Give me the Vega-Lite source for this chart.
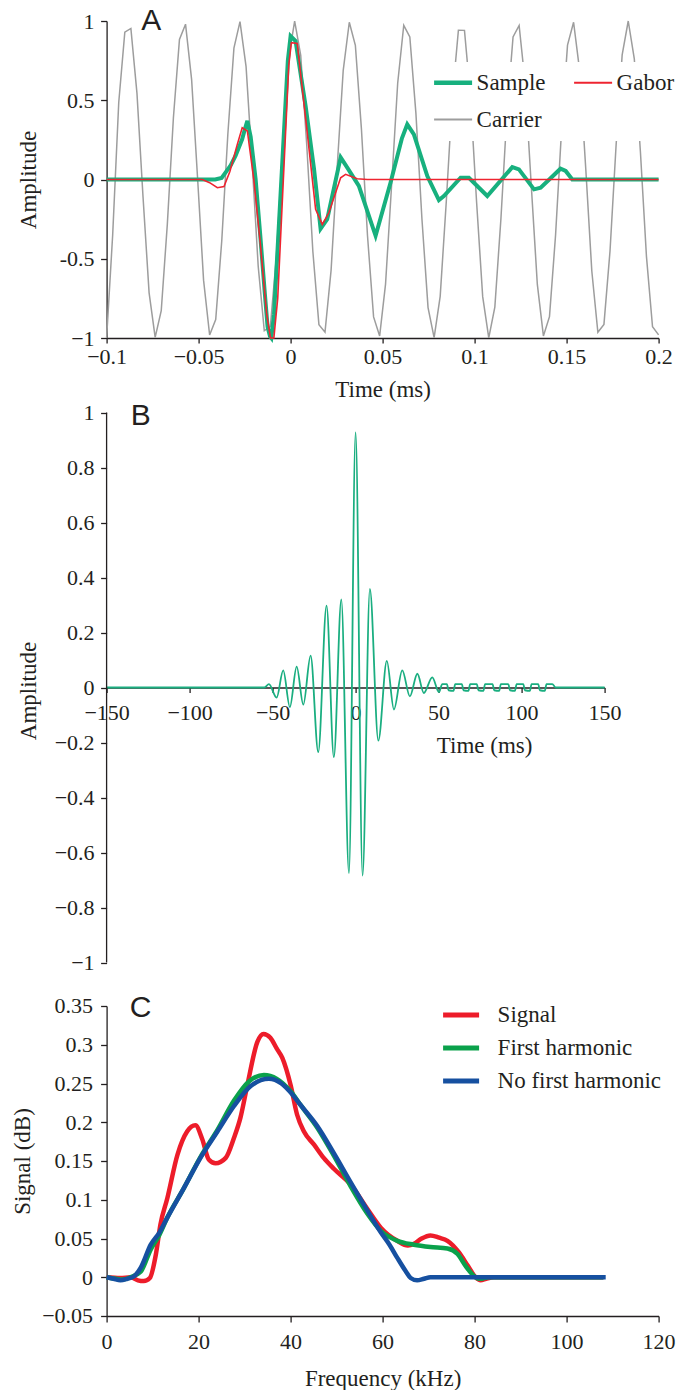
{
  "$schema": "https://vega.github.io/schema/vega-lite/v6.json",
  "background": "white",
  "padding": {"left": 10.6, "top": 6, "right": 2, "bottom": 2},
  "bounds": "flush",
  "spacing": 43,
  "resolve": {"scale": {"color": "independent"}, "legend": {"color": "independent"}},
  "config": {
    "view": {"stroke": null},
    "axis": {"grid": false, "domainColor": "#231f20", "domainWidth": 1.3, "tickColor": "#231f20", "tickWidth": 1.3, "tickSize": 6, "labelFont": "Liberation Serif", "labelFontSize": 22, "labelColor": "#231f20", "titleFont": "Liberation Serif", "titleFontSize": 23, "titleFontWeight": "normal", "titleColor": "#231f20", "labelOverlap": false, "labelFlush": false},
    "legend": {"labelFont": "Liberation Serif", "labelColor": "#231f20", "labelFontSize": 23, "labelLimit": 400}
  },
  "datasets": {
    "carrier": [
      {"t":-0.1,"a":-1.0},{"t":-0.0967,"a":-0.35},{"t":-0.0934,"a":0.486},{"t":-0.0901,"a":0.93},{"t":-0.0868,"a":0.953},{"t":-0.0835,"a":0.545},{"t":-0.0802,"a":-0.11},{"t":-0.0769,"a":-0.715},{"t":-0.0736,"a":-0.996},{"t":-0.0703,"a":-0.827},
      {"t":-0.067,"a":-0.283},{"t":-0.0637,"a":0.388},{"t":-0.0604,"a":0.884},{"t":-0.0571,"a":0.98},{"t":-0.0538,"a":0.632},{"t":-0.0505,"a":-0.002},{"t":-0.0473,"a":-0.635},{"t":-0.044,"a":-0.981},{"t":-0.0407,"a":-0.883},{"t":-0.0374,"a":-0.385},
      {"t":-0.0341,"a":0.287},{"t":-0.0308,"a":0.829},{"t":-0.0275,"a":0.996},{"t":-0.0242,"a":0.712},{"t":-0.0209,"a":0.106},{"t":-0.0176,"a":-0.548},{"t":-0.0143,"a":-0.954},{"t":-0.011,"a":-0.928},{"t":-0.0077,"a":-0.483},{"t":-0.0044,"a":0.181},
      {"t":-0.0011,"a":0.763},{"t":0.0022,"a":1.0},{"t":0.0055,"a":0.784},{"t":0.0088,"a":0.213},{"t":0.0121,"a":-0.454},{"t":0.0154,"a":-0.916},{"t":0.0187,"a":-0.963},{"t":0.022,"a":-0.573},{"t":0.0253,"a":0.074},{"t":0.0286,"a":0.689},
      {"t":0.0319,"a":0.992},{"t":0.0352,"a":0.847},{"t":0.0385,"a":0.318},{"t":0.0418,"a":-0.355},{"t":0.0451,"a":-0.867},{"t":0.0484,"a":-0.987},{"t":0.0516,"a":-0.66},{"t":0.0549,"a":-0.035},{"t":0.0582,"a":0.607},{"t":0.0615,"a":0.973},
      {"t":0.0648,"a":0.899},{"t":0.0681,"a":0.419},{"t":0.0714,"a":-0.252},{"t":0.0747,"a":-0.808},{"t":0.078,"a":-0.998},{"t":0.0813,"a":-0.737},{"t":0.0846,"a":-0.142},{"t":0.0879,"a":0.517},{"t":0.0912,"a":0.942},{"t":0.0945,"a":0.941},
      {"t":0.0978,"a":0.514},{"t":0.1011,"a":-0.145},{"t":0.1044,"a":-0.739},{"t":0.1077,"a":-0.999},{"t":0.111,"a":-0.806},{"t":0.1143,"a":-0.249},{"t":0.1176,"a":0.421},{"t":0.1209,"a":0.9},{"t":0.1242,"a":0.972},{"t":0.1275,"a":0.604},
      {"t":0.1308,"a":-0.038},{"t":0.1341,"a":-0.662},{"t":0.1374,"a":-0.987},{"t":0.1407,"a":-0.865},{"t":0.144,"a":-0.352},{"t":0.1473,"a":0.321},{"t":0.1505,"a":0.848},{"t":0.1538,"a":0.992},{"t":0.1571,"a":0.687},{"t":0.1604,"a":0.071},
      {"t":0.1637,"a":-0.577},{"t":0.167,"a":-0.964},{"t":0.1703,"a":-0.914},{"t":0.1736,"a":-0.451},{"t":0.1769,"a":0.216},{"t":0.1802,"a":0.786},{"t":0.1835,"a":1.0},{"t":0.1868,"a":0.761},{"t":0.1901,"a":0.178},{"t":0.1934,"a":-0.485},
      {"t":0.1967,"a":-0.929},{"t":0.2,"a":-0.98}
    ],
    "sample": [
      {"t":-0.1,"a":0},{"t":-0.041,"a":0},{"t":-0.0375,"a":0.01},{"t":-0.0353,"a":0.045},{"t":-0.0325,"a":0.09},{"t":-0.0299,"a":0.15},{"t":-0.0263,"a":0.255},{"t":-0.0248,"a":0.32},{"t":-0.0235,"a":0.37},{"t":-0.0217,"a":0.27},
      {"t":-0.019,"a":0.0},{"t":-0.0165,"a":-0.35},{"t":-0.014,"a":-0.72},{"t":-0.0125,"a":-0.93},{"t":-0.0112,"a":-0.99},{"t":-0.0105,"a":-1.0},{"t":-0.009,"a":-0.85},{"t":-0.0015,"a":0.75},{"t":0.0,"a":0.905},{"t":0.0027,"a":0.874},
      {"t":0.0082,"a":0.46},{"t":0.0127,"a":0.07},{"t":0.0163,"a":-0.31},{"t":0.0199,"a":-0.25},{"t":0.0272,"a":0.14},{"t":0.0308,"a":0.075},{"t":0.0371,"a":-0.04},{"t":0.0462,"a":-0.355},{"t":0.0543,"a":-0.02},{"t":0.0605,"a":0.26},
      {"t":0.0634,"a":0.348},{"t":0.067,"a":0.285},{"t":0.0743,"a":0.022},{"t":0.0806,"a":-0.13},{"t":0.0833,"a":-0.104},{"t":0.0924,"a":0.011},{"t":0.0969,"a":0.011},{"t":0.1069,"a":-0.104},{"t":0.1205,"a":0.078},{"t":0.1241,"a":0.064},
      {"t":0.1323,"a":-0.062},{"t":0.1359,"a":-0.052},{"t":0.1467,"a":0.068},{"t":0.1495,"a":0.054},{"t":0.1531,"a":0.0},{"t":0.2,"a":0}
    ],
    "gabor": [
      {"t":-0.1,"a":0},{"t":-0.048,"a":0},{"t":-0.044,"a":-0.02},{"t":-0.0398,"a":-0.052},{"t":-0.0362,"a":-0.045},{"t":-0.033,"a":0.05},{"t":-0.029,"a":0.22},{"t":-0.0263,"a":0.327},{"t":-0.0235,"a":0.306},{"t":-0.02,"a":0.0},
      {"t":-0.0165,"a":-0.4},{"t":-0.013,"a":-0.85},{"t":-0.0109,"a":-1.0},{"t":-0.0091,"a":-1.0},{"t":-0.007,"a":-0.75},{"t":-0.001,"a":0.72},{"t":0.0004,"a":0.863},{"t":0.0036,"a":0.859},{"t":0.009,"a":0.3},{"t":0.0136,"a":-0.188},
      {"t":0.0172,"a":-0.283},{"t":0.0208,"a":-0.21},{"t":0.0272,"a":0.011},{"t":0.0299,"a":0.033},{"t":0.0362,"a":0.005},{"t":0.0417,"a":0.0},{"t":0.2,"a":0}
    ],
    "waveB": [
      {"t":-150,"a":0},{"t":-55,"a":0},{"t":-52.2,"a":0.012},{"t":-47.6,"a":-0.037},{"t":-43.6,"a":0.062},{"t":-39.6,"a":-0.071},{"t":-35.5,"a":0.076},{"t":-31.5,"a":-0.062},{"t":-27.1,"a":0.116},{"t":-22.5,"a":-0.235},
      {"t":-17.5,"a":0.298},{"t":-13.1,"a":-0.253},{"t":-8.6,"a":0.32},{"t":-4.0,"a":-0.675},{"t":0,"a":0.928},{"t":4.2,"a":-0.684},{"t":8.6,"a":0.359},{"t":13.7,"a":-0.193},{"t":18.8,"a":0.097},{"t":23.1,"a":-0.08},
      {"t":28.1,"a":0.062},{"t":32.7,"a":-0.032},{"t":37.2,"a":0.05},{"t":41.1,"a":-0.02},{"t":46.2,"a":0.037},{"t":50.2,"a":-0.017},{"t":52.2,"a":0.012},{"t":55,"a":0.012},{"t":56,"a":-0.01},{"t":59,"a":-0.012},
      {"t":60,"a":0.012},{"t":64,"a":0.012},{"t":65,"a":-0.01},{"t":68,"a":-0.012},{"t":69,"a":0.012},{"t":73,"a":0.012},{"t":74,"a":-0.01},{"t":77,"a":-0.012},{"t":78,"a":0.012},{"t":82.5,"a":0.012},
      {"t":83.5,"a":-0.01},{"t":86.5,"a":-0.012},{"t":87.5,"a":0.012},{"t":92,"a":0.012},{"t":93,"a":-0.01},{"t":96,"a":-0.012},{"t":97,"a":0.012},{"t":101,"a":0.012},{"t":102,"a":-0.01},{"t":105,"a":-0.012},
      {"t":106,"a":0.012},{"t":110,"a":0.012},{"t":111,"a":-0.01},{"t":114,"a":-0.012},{"t":115,"a":0.012},{"t":118.5,"a":0.012},{"t":120.5,"a":0},{"t":150,"a":0}
    ],
    "spec": [
      {"series":"Signal","f":0,"s":0},{"series":"Signal","f":3,"s":-0.001},{"series":"Signal","f":5.2,"s":0},{"series":"Signal","f":6.8,"s":-0.004},{"series":"Signal","f":8.1,"s":-0.005},{"series":"Signal","f":9.4,"s":-0.001},{"series":"Signal","f":10.7,"s":0.029},{"series":"Signal","f":11.7,"s":0.068},{"series":"Signal","f":13.2,"s":0.102},{"series":"Signal","f":15.4,"s":0.158},
      {"series":"Signal","f":17.5,"s":0.188},{"series":"Signal","f":19.3,"s":0.196},{"series":"Signal","f":20.8,"s":0.178},{"series":"Signal","f":22.2,"s":0.152},{"series":"Signal","f":23.7,"s":0.147},{"series":"Signal","f":25.9,"s":0.154},{"series":"Signal","f":27.7,"s":0.18},{"series":"Signal","f":29.1,"s":0.206},{"series":"Signal","f":30.6,"s":0.248},{"series":"Signal","f":32.8,"s":0.304},
      {"series":"Signal","f":34.1,"s":0.314},{"series":"Signal","f":35.6,"s":0.309},{"series":"Signal","f":37,"s":0.295},{"series":"Signal","f":38.2,"s":0.283},{"series":"Signal","f":40,"s":0.248},{"series":"Signal","f":41.4,"s":0.21},{"series":"Signal","f":42.9,"s":0.188},{"series":"Signal","f":45.1,"s":0.171},{"series":"Signal","f":47.2,"s":0.154},{"series":"Signal","f":49.4,"s":0.14},
      {"series":"Signal","f":53,"s":0.12},{"series":"Signal","f":56.7,"s":0.088},{"series":"Signal","f":59.6,"s":0.064},{"series":"Signal","f":63.2,"s":0.047},{"series":"Signal","f":65.5,"s":0.041},{"series":"Signal","f":66.8,"s":0.043},{"series":"Signal","f":68.5,"s":0.05},{"series":"Signal","f":70.4,"s":0.054},{"series":"Signal","f":72.3,"s":0.051},{"series":"Signal","f":74.1,"s":0.047},
      {"series":"Signal","f":76.6,"s":0.032},{"series":"Signal","f":78.5,"s":0.015},{"series":"Signal","f":80.2,"s":0},{"series":"Signal","f":81.3,"s":-0.004},{"series":"Signal","f":82.5,"s":-0.002},{"series":"Signal","f":84.2,"s":0},{"series":"Signal","f":108,"s":0},
      {"series":"First harmonic","f":0,"s":0},{"series":"First harmonic","f":2,"s":-0.002},{"series":"First harmonic","f":3.5,"s":-0.003},{"series":"First harmonic","f":5.2,"s":0},{"series":"First harmonic","f":7.4,"s":0.007},{"series":"First harmonic","f":9.6,"s":0.036},{"series":"First harmonic","f":11.5,"s":0.055},{"series":"First harmonic","f":13.2,"s":0.077},{"series":"First harmonic","f":16.8,"s":0.115},{"series":"First harmonic","f":20.4,"s":0.155},
      {"series":"First harmonic","f":24.1,"s":0.19},{"series":"First harmonic","f":27.7,"s":0.228},{"series":"First harmonic","f":31,"s":0.253},{"series":"First harmonic","f":34.2,"s":0.261},{"series":"First harmonic","f":37,"s":0.256},{"series":"First harmonic","f":40,"s":0.24},{"series":"First harmonic","f":42.2,"s":0.222},{"series":"First harmonic","f":45.8,"s":0.193},{"series":"First harmonic","f":49.4,"s":0.157},{"series":"First harmonic","f":53,"s":0.118},
      {"series":"First harmonic","f":56.7,"s":0.082},{"series":"First harmonic","f":59.6,"s":0.06},{"series":"First harmonic","f":63.2,"s":0.047},{"series":"First harmonic","f":66.8,"s":0.042},{"series":"First harmonic","f":70.4,"s":0.039},{"series":"First harmonic","f":74.1,"s":0.037},{"series":"First harmonic","f":76.3,"s":0.03},{"series":"First harmonic","f":78,"s":0.015},{"series":"First harmonic","f":80.2,"s":0},{"series":"First harmonic","f":81.2,"s":-0.002},
      {"series":"First harmonic","f":83,"s":0},{"series":"First harmonic","f":108,"s":0},
      {"series":"No first harmonic","f":0,"s":0},{"series":"No first harmonic","f":1.5,"s":-0.002},{"series":"No first harmonic","f":3,"s":-0.004},{"series":"No first harmonic","f":4.5,"s":-0.002},{"series":"No first harmonic","f":5.9,"s":0.001},{"series":"No first harmonic","f":7.4,"s":0.012},{"series":"No first harmonic","f":9.6,"s":0.042},{"series":"No first harmonic","f":11.5,"s":0.058},{"series":"No first harmonic","f":13.2,"s":0.077},{"series":"No first harmonic","f":16.8,"s":0.115},
      {"series":"No first harmonic","f":20.4,"s":0.154},{"series":"No first harmonic","f":24.1,"s":0.188},{"series":"No first harmonic","f":27.7,"s":0.221},{"series":"No first harmonic","f":31.4,"s":0.247},{"series":"No first harmonic","f":35.3,"s":0.256},{"series":"No first harmonic","f":38,"s":0.25},{"series":"No first harmonic","f":40.5,"s":0.235},{"series":"No first harmonic","f":42.2,"s":0.222},{"series":"No first harmonic","f":45.8,"s":0.195},{"series":"No first harmonic","f":49.4,"s":0.16},
      {"series":"No first harmonic","f":53,"s":0.123},{"series":"No first harmonic","f":56.7,"s":0.086},{"series":"No first harmonic","f":59.6,"s":0.058},{"series":"No first harmonic","f":61.5,"s":0.042},{"series":"No first harmonic","f":63.2,"s":0.025},{"series":"No first harmonic","f":65,"s":0.008},{"series":"No first harmonic","f":66.1,"s":-0.001},{"series":"No first harmonic","f":67.5,"s":-0.004},{"series":"No first harmonic","f":69,"s":-0.002},{"series":"No first harmonic","f":70.4,"s":0},
      {"series":"No first harmonic","f":108.5,"s":0}
    ]
  },
  "vconcat": [
    {
      "width": 552,
      "height": 317,
      "encoding": {
        "x": {"field": "t", "type": "quantitative", "scale": {"domain": [-0.1, 0.2], "nice": false, "zero": false},
              "axis": {"title": "Time (ms)", "values": [-0.1, -0.05, 0, 0.05, 0.1, 0.15, 0.2], "labelExpr": "format(datum.value, '~g')", "tickSize": 5, "labelPadding": 3.5, "titleY": 40}},
        "y": {"field": "a", "type": "quantitative", "scale": {"domain": [-1, 1], "nice": false},
              "axis": {"title": "Amplitude", "values": [-1, -0.5, 0, 0.5, 1], "labelExpr": "datum.value == -0.5 ? '-0.5' : format(datum.value, '~g')", "tickSize": 6, "labelPadding": 6.5, "titleX": -66}}
      },
      "layer": [
        {"data": {"name": "carrier"}, "mark": {"type": "line", "strokeWidth": 1.5},
         "encoding": {"color": {"datum": "Carrier", "type": "nominal", "scale": {"domain": ["Sample", "Gabor", "Carrier"], "range": ["#17b07e", "#ee2430", "#9d9d9d"]},
           "legend": {"orient": "none", "legendX": 326, "legendY": 41, "direction": "horizontal", "columns": 2, "title": null, "fillColor": "white", "padding": 9, "symbolType": "stroke", "symbolSize": 1444, "symbolStrokeWidth": 1.8, "labelFontSize": 23, "labelOffset": 12, "rowPadding": 13, "columnPadding": 24, "encode": {"symbols": {"update": {"strokeWidth": {"signal": "datum.value === 'Sample' ? 4.5 : 1.8"}}}}}}}},
        {"data": {"name": "sample"}, "mark": {"type": "line", "strokeWidth": 4},
         "encoding": {"color": {"datum": "Sample", "type": "nominal", "scale": {"domain": ["Sample", "Gabor", "Carrier"], "range": ["#17b07e", "#ee2430", "#9d9d9d"]},
           "legend": {"orient": "none", "legendX": 326, "legendY": 41, "direction": "horizontal", "columns": 2, "title": null, "fillColor": "white", "padding": 9, "symbolType": "stroke", "symbolSize": 1444, "symbolStrokeWidth": 1.8, "labelFontSize": 23, "labelOffset": 12, "rowPadding": 13, "columnPadding": 24, "encode": {"symbols": {"update": {"strokeWidth": {"signal": "datum.value === 'Sample' ? 4.5 : 1.8"}}}}}}}},
        {"data": {"name": "gabor"}, "mark": {"type": "line", "strokeWidth": 1.6},
         "encoding": {"color": {"datum": "Gabor", "type": "nominal", "scale": {"domain": ["Sample", "Gabor", "Carrier"], "range": ["#17b07e", "#ee2430", "#9d9d9d"]},
           "legend": {"orient": "none", "legendX": 326, "legendY": 41, "direction": "horizontal", "columns": 2, "title": null, "fillColor": "white", "padding": 9, "symbolType": "stroke", "symbolSize": 1444, "symbolStrokeWidth": 1.8, "labelFontSize": 23, "labelOffset": 12, "rowPadding": 13, "columnPadding": 24, "encode": {"symbols": {"update": {"strokeWidth": {"signal": "datum.value === 'Sample' ? 4.5 : 1.8"}}}}}}}},
        {"data": {"values": [{"label": "A", "t": -0.0758, "a": 1.0}]},
         "mark": {"type": "text", "font": "Liberation Sans", "fontSize": 30, "baseline": "middle", "align": "center", "color": "#231f20"},
         "encoding": {"text": {"field": "label"}}}
      ]
    },
    {
      "width": 498,
      "height": 581.5,
      "encoding": {
        "x": {"field": "t", "type": "quantitative", "scale": {"domain": [-150, 150], "nice": false, "zero": false},
              "axis": {"title": "Time (ms)", "values": [-150, -100, -50, 0, 50, 100, 150], "labelExpr": "format(datum.value, '~g')", "offset": -275, "tickSize": 5, "labelPadding": 10, "titleX": 377.5, "titleY": 47}},
        "y": {"field": "a", "type": "quantitative", "scale": {"domain": [-1, 1.11455], "nice": false},
              "axis": {"title": "Amplitude", "values": [-1, -0.8, -0.6, -0.4, -0.2, 0, 0.2, 0.4, 0.6, 0.8, 1], "labelExpr": "format(datum.value, '~g')", "domain": false, "tickSize": 6, "labelPadding": 6.5, "titleX": -66, "titleY": 309.5}}
      },
      "layer": [
        {"data": {"name": "waveB"}, "mark": {"type": "line", "interpolate": "monotone", "strokeWidth": 1.8, "color": "#1aae80"}},
        {"data": {"values": [{"t": -150, "a": -1, "a2": 1}]}, "mark": {"type": "rule", "color": "#231f20", "strokeWidth": 1.3},
         "encoding": {"y2": {"field": "a2"}}},
        {"data": {"values": [{"label": "B", "t": -129.5, "a": 0.989}]},
         "mark": {"type": "text", "font": "Liberation Sans", "fontSize": 30, "baseline": "middle", "align": "center", "color": "#231f20"},
         "encoding": {"text": {"field": "label"}}}
      ]
    },
    {
      "width": 552,
      "height": 310,
      "encoding": {
        "x": {"field": "f", "type": "quantitative", "scale": {"domain": [0, 120], "nice": false},
              "axis": {"title": "Frequency (kHz)", "values": [0, 20, 40, 60, 80, 100, 120], "labelExpr": "format(datum.value, '~g')", "tickSize": 6, "labelPadding": 9.5, "titleY": 52}},
        "y": {"field": "s", "type": "quantitative", "scale": {"domain": [-0.05, 0.35], "nice": false, "zero": false},
              "axis": {"title": "Signal (dB)", "values": [-0.05, 0, 0.05, 0.1, 0.15, 0.2, 0.25, 0.3, 0.35], "labelExpr": "format(datum.value, '~g')", "tickSize": 6, "labelPadding": 8, "titleX": -72.4}}
      },
      "layer": [
        {"data": {"name": "spec"}, "transform": [{"filter": "datum.series === 'Signal'"}],
         "mark": {"type": "line", "interpolate": "monotone", "strokeWidth": 4.5},
         "encoding": {"color": {"field": "series", "type": "nominal", "scale": {"domain": ["Signal", "First harmonic", "No first harmonic"], "range": ["#ed1c2a", "#0aa14b", "#1650a0"]},
           "legend": {"orient": "none", "legendX": 334, "legendY": -11.5, "direction": "vertical", "title": null, "padding": 0, "symbolType": "stroke", "symbolSize": 1296, "symbolStrokeWidth": 5, "labelFontSize": 23, "labelOffset": 16, "rowPadding": 0, "labelLimit": 400}}}},
        {"data": {"name": "spec"}, "transform": [{"filter": "datum.series === 'First harmonic'"}],
         "mark": {"type": "line", "interpolate": "monotone", "strokeWidth": 4.5},
         "encoding": {"color": {"field": "series", "type": "nominal", "scale": {"domain": ["Signal", "First harmonic", "No first harmonic"], "range": ["#ed1c2a", "#0aa14b", "#1650a0"]},
           "legend": {"orient": "none", "legendX": 334, "legendY": -11.5, "direction": "vertical", "title": null, "padding": 0, "symbolType": "stroke", "symbolSize": 1296, "symbolStrokeWidth": 5, "labelFontSize": 23, "labelOffset": 16, "rowPadding": 0, "labelLimit": 400}}}},
        {"data": {"name": "spec"}, "transform": [{"filter": "datum.series === 'No first harmonic'"}],
         "mark": {"type": "line", "interpolate": "monotone", "strokeWidth": 4.5},
         "encoding": {"color": {"field": "series", "type": "nominal", "scale": {"domain": ["Signal", "First harmonic", "No first harmonic"], "range": ["#ed1c2a", "#0aa14b", "#1650a0"]},
           "legend": {"orient": "none", "legendX": 334, "legendY": -11.5, "direction": "vertical", "title": null, "padding": 0, "symbolType": "stroke", "symbolSize": 1296, "symbolStrokeWidth": 5, "labelFontSize": 23, "labelOffset": 16, "rowPadding": 0, "labelLimit": 400}}}},
        {"data": {"values": [{"label": "C", "f": 7.4, "s": 0.347}]},
         "mark": {"type": "text", "font": "Liberation Sans", "fontSize": 30, "baseline": "middle", "align": "center", "color": "#231f20"},
         "encoding": {"text": {"field": "label"}}}
      ]
    }
  ]
}
